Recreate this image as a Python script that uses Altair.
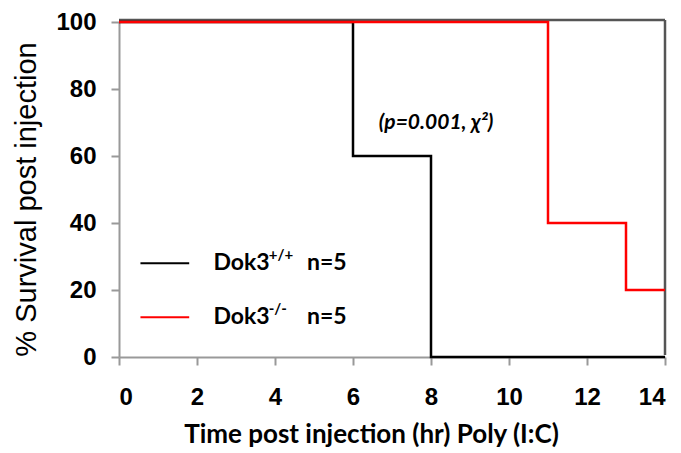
import altair as alt
import pandas as pd

# Survival step data
wt_time = [0, 6, 8, 14]
wt_surv = [100, 60, 0, 0]
ko_time = [0, 11, 13, 14]
ko_surv = [100, 40, 20, 20]

x_ticks = [0, 2, 4, 6, 8, 10, 12, 14]
y_ticks = [0, 20, 40, 60, 80, 100]

legend_names = ["Dok3", "Dok3"]
legend_sups = ["+/+", "-/-"]
legend_n = ["n=5", "n=5"]
legend_y = [28.0, 11.9]
legend_colors = ["#000000", "#ff0000"]

annotation = "(p=0.001, \u03c7\u00b2)"

df = pd.concat([
    pd.DataFrame({"t": wt_time, "s": wt_surv, "g": "wt"}),
    pd.DataFrame({"t": ko_time, "s": ko_surv, "g": "ko"}),
])

xs = alt.Scale(domain=[0, 14], nice=False)
ys = alt.Scale(domain=[0, 100], nice=False)

xax = alt.Axis(values=x_ticks, grid=False, domainColor="#999999", tickColor="#999999",
               domainWidth=2, tickWidth=2, tickSize=8, labelFont="Liberation Sans",
               labelFontWeight="bold", labelFontSize=24, labelColor="#000000", labelPadding=20,
               title="Time post injection (hr) Poly (I:C)", titleFont="Lato", titleFontSize=26,
               titleFontWeight="bold", titleColor="#000000", titlePadding=12, titleX=252)
yax = alt.Axis(values=y_ticks, grid=False, domainColor="#999999", tickColor="#999999",
               domainWidth=2, tickWidth=2, tickSize=8, labelFont="Liberation Sans",
               labelFontWeight="bold", labelFontSize=24, labelColor="#000000", labelPadding=15,
               title="% Survival post injection", titleFont="Liberation Sans", titleFontSize=29,
               titleFontWeight="normal", titleColor="#000000", titlePadding=14, titleY=177)

frame_df = pd.DataFrame({"x1": [0, 14], "x2": [14, 14], "y1": [100, 0], "y2": [100, 100]})
frame = alt.Chart(frame_df).mark_rule(color="#555555", strokeWidth=2.5, yOffset=-2, y2Offset=-2).encode(
    x=alt.X("x1:Q", scale=xs, axis=xax), x2="x2:Q",
    y=alt.Y("y1:Q", scale=ys, axis=yax), y2="y2:Q")

lines = alt.Chart(df).mark_line(interpolate="step-after", strokeWidth=2.5).encode(
    x=alt.X("t:Q", scale=xs, axis=xax),
    y=alt.Y("s:Q", scale=ys, axis=yax),
    color=alt.Color("g:N", scale=alt.Scale(domain=["wt", "ko"], range=legend_colors), legend=None),
    detail="g:N")

leg = pd.DataFrame({"name": legend_names, "sup": legend_sups, "n": legend_n,
                    "y": legend_y, "c": legend_colors,
                    "x1": [0.55, 0.55], "x2": [1.8, 1.8],
                    "xt": [2.42, 2.42], "xs": [3.84, 3.84], "xn": [4.82, 4.82]})
leg_lines = alt.Chart(leg).mark_rule(strokeWidth=2).encode(
    x=alt.X("x1:Q", scale=xs), x2="x2:Q", y=alt.Y("y:Q", scale=ys),
    color=alt.Color("c:N", scale=None))
leg_text = alt.Chart(leg).mark_text(align="left", baseline="middle", font="Lato", fontSize=23,
                                    fontWeight="bold", color="#000000").encode(
    x=alt.X("xt:Q", scale=xs), y=alt.Y("y:Q", scale=ys), text="name:N")
leg_sup = alt.Chart(leg).mark_text(align="left", baseline="middle", font="Lato", fontSize=15,
                                   fontWeight="bold", color="#000000", dy=-8).encode(
    x=alt.X("xs:Q", scale=xs), y=alt.Y("y:Q", scale=ys), text="sup:N")
leg_n = alt.Chart(leg).mark_text(align="left", baseline="middle", font="Lato", fontSize=23,
                                 fontWeight="bold", color="#000000").encode(
    x=alt.X("xn:Q", scale=xs), y=alt.Y("y:Q", scale=ys), text="n:N")

ann = alt.Chart(pd.DataFrame({"x": [8.13], "y": [69.9], "t": [annotation]})).mark_text(
    align="center", baseline="middle", font="Lato", fontSize=21, fontWeight="bold",
    fontStyle="italic", color="#000000").encode(
    x=alt.X("x:Q", scale=xs), y=alt.Y("y:Q", scale=ys), text="t:N")

chart = alt.layer(frame, lines, leg_lines, leg_text, leg_sup, leg_n, ann).properties(
    width=546, height=335,
    autosize=alt.AutoSizeParams(type="none"),
    padding={"left": 111, "top": 14, "right": 8, "bottom": 92},
).configure_view(stroke=None)

chart.save("out.html", embed_options={"renderer": "svg", "actions": False})
